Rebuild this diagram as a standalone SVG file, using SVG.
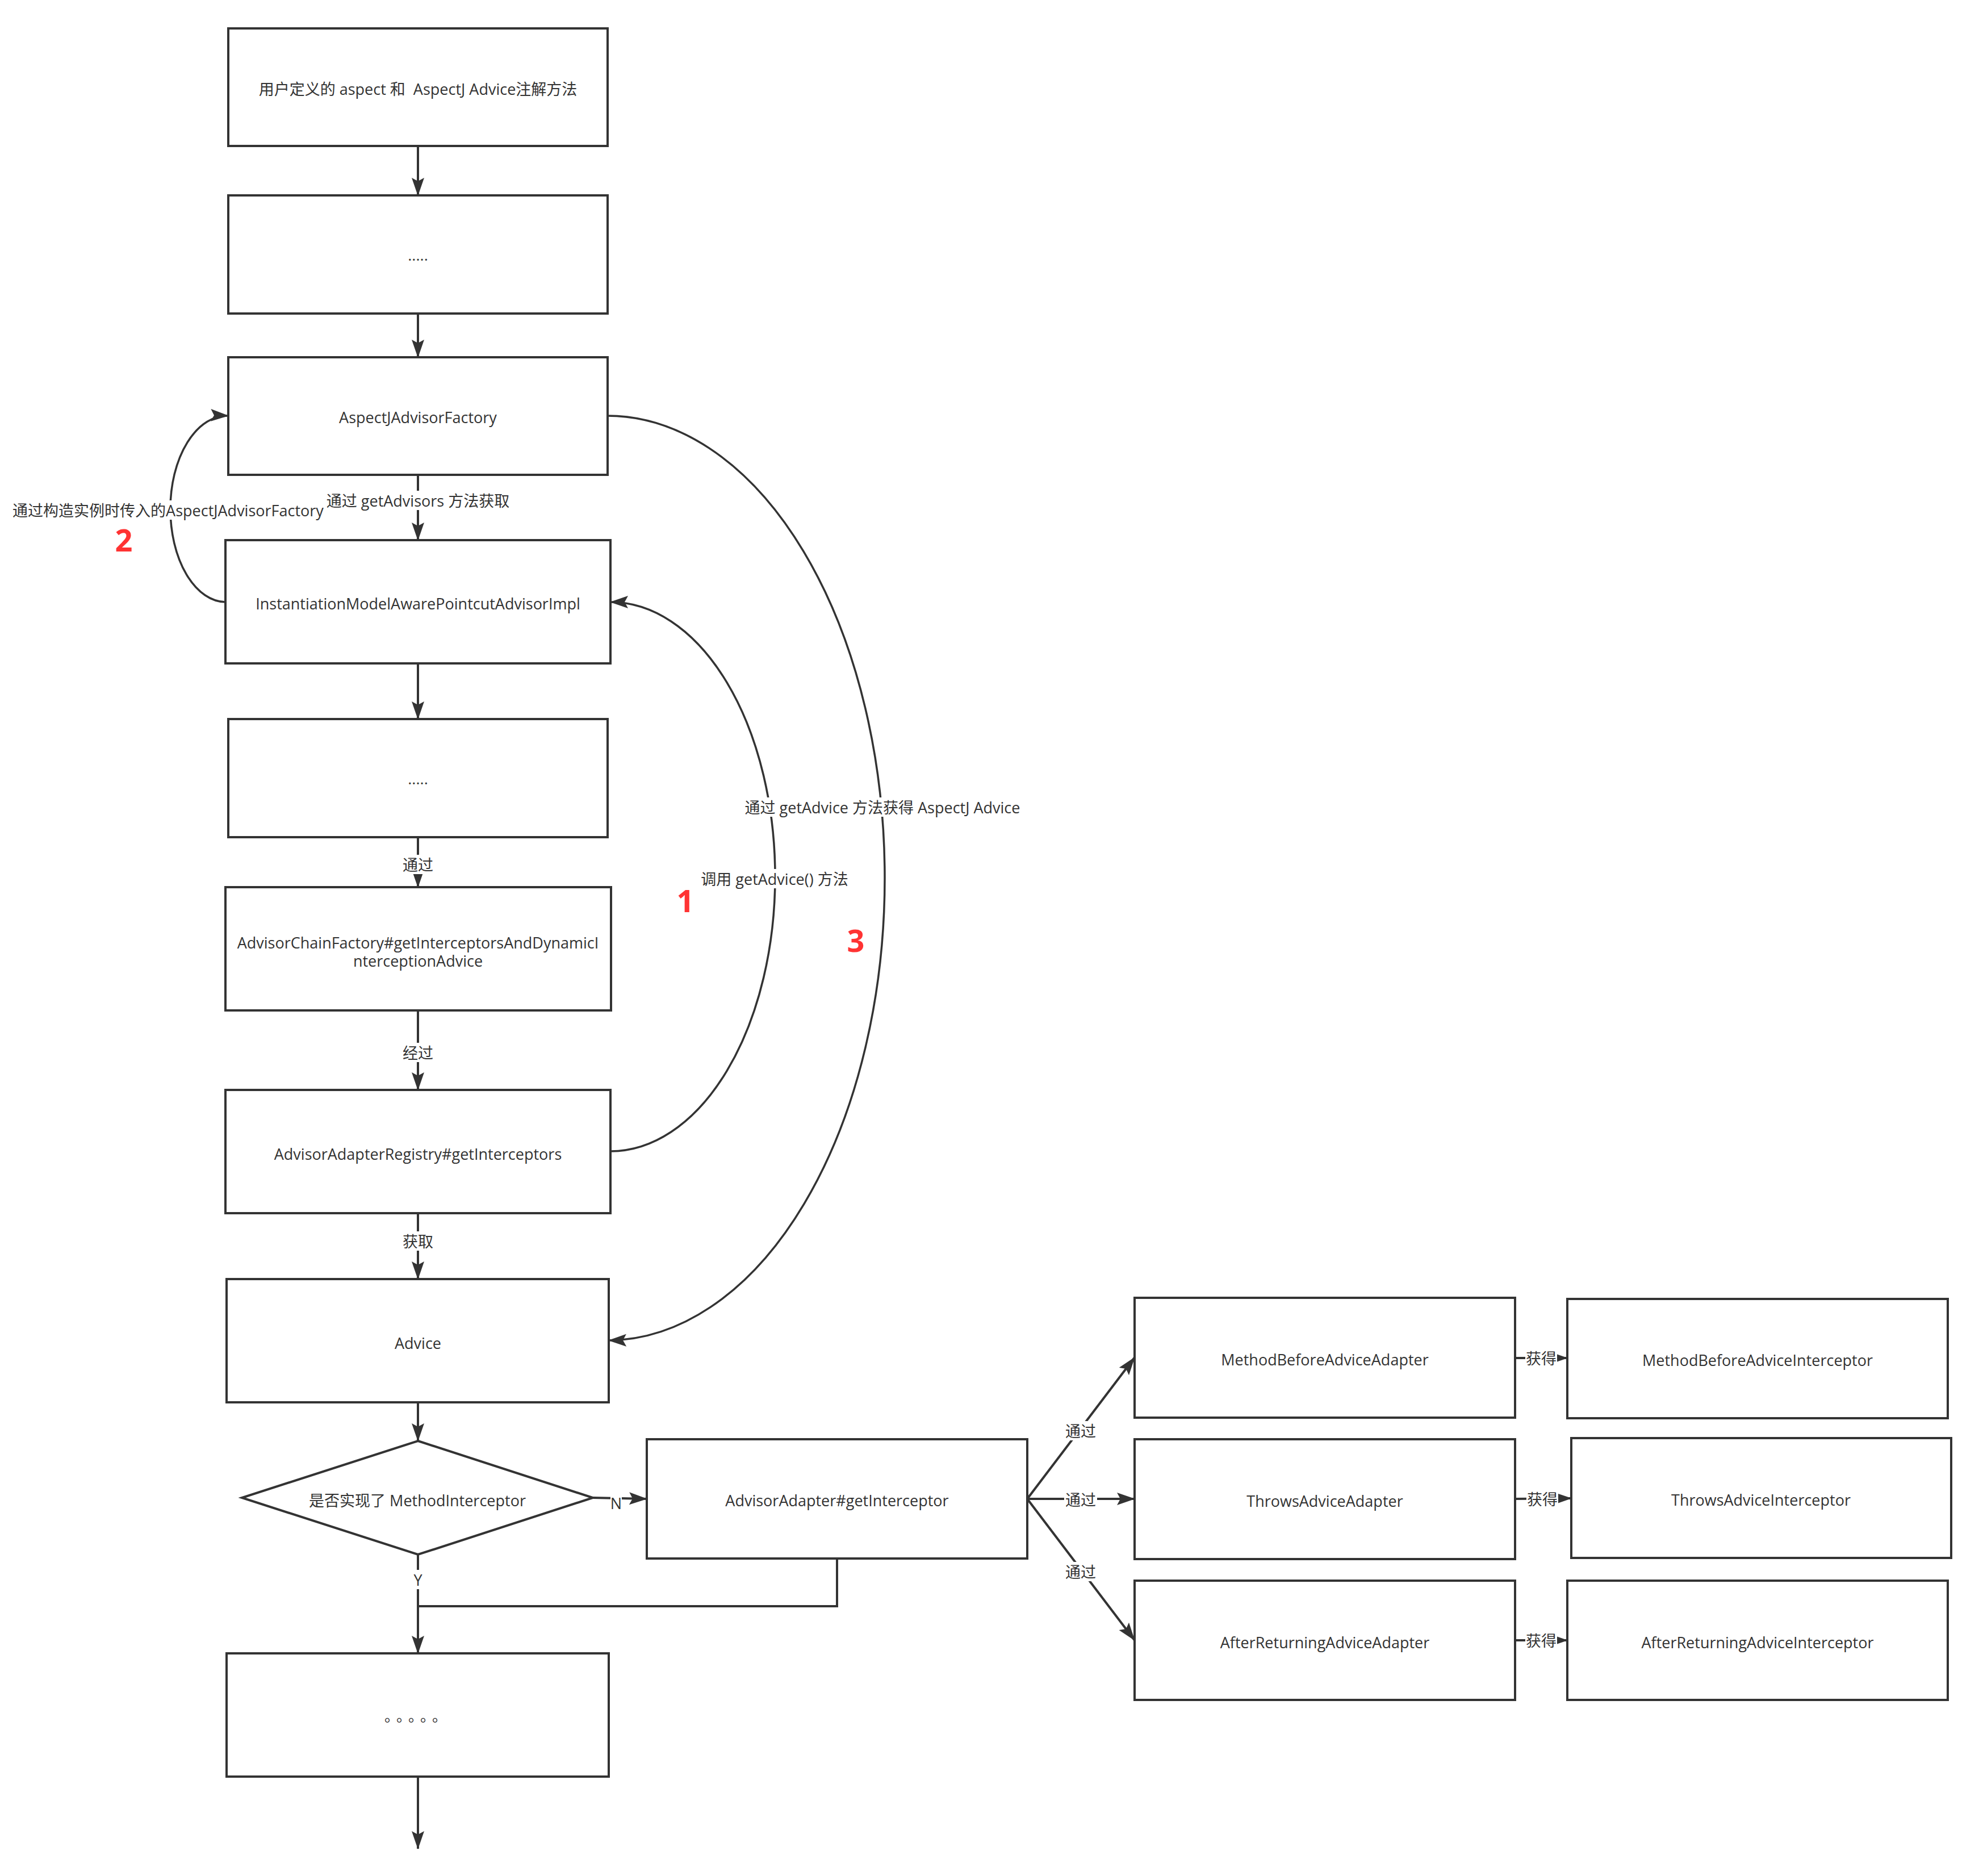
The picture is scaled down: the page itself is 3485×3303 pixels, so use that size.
<svg xmlns="http://www.w3.org/2000/svg" width="3485" height="3303" viewBox="0 0 3485 3303">
<defs>
<style>
.box{fill:#ffffff;stroke:#333333;stroke-width:4}
.t{font-family:"Open Sans","Noto Sans CJK SC",sans-serif;font-size:27px;fill:#333333;text-anchor:middle;dominant-baseline:central}
.cjk{font-family:"Noto Sans CJK SC",sans-serif;font-size:26px;fill:#333333;text-anchor:middle;dominant-baseline:central}
.ln{fill:none;stroke:#333333;stroke-width:4}
.cv{fill:none;stroke:#333333;stroke-width:3.5}
.bg{fill:#ffffff}
.num{font-family:"Open Sans","Noto Sans",sans-serif;font-size:54px;font-weight:bold;fill:#ff3333;text-anchor:middle;dominant-baseline:central}
</style>
<marker id="arr" markerUnits="userSpaceOnUse" markerWidth="34" markerHeight="24" refX="31" refY="11" orient="auto">
<path d="M0,0 L32,11 L0,22 L6,11 Z" fill="#333333"/>
</marker>
</defs>
<rect x="0" y="0" width="3485" height="3303" fill="#ffffff"/>

<g id="connectors">
<line class="ln" x1="736" y1="258" x2="736" y2="344" marker-end="url(#arr)"/>
<line class="ln" x1="736" y1="552" x2="736" y2="629" marker-end="url(#arr)"/>
<line class="ln" x1="736" y1="836" x2="736" y2="951" marker-end="url(#arr)"/>
<line class="ln" x1="736" y1="1168" x2="736" y2="1266" marker-end="url(#arr)"/>
<line class="ln" x1="736" y1="1474" x2="736" y2="1562" marker-end="url(#arr)"/>
<line class="ln" x1="736" y1="1779" x2="736" y2="1919" marker-end="url(#arr)"/>
<line class="ln" x1="736" y1="2136" x2="736" y2="2252" marker-end="url(#arr)"/>
<line class="ln" x1="736" y1="2469" x2="736" y2="2537" marker-end="url(#arr)"/>
<line class="ln" x1="1044" y1="2637" x2="1139" y2="2639" marker-end="url(#arr)"/>
<line class="ln" x1="736" y1="2737" x2="736" y2="2911" marker-end="url(#arr)"/>
<polyline class="ln" points="1474,2744 1474,2828 736,2828"/>
<line class="ln" x1="736" y1="3128" x2="736" y2="3255" marker-end="url(#arr)"/>
<line class="ln" x1="1809" y1="2639" x2="1998" y2="2390" marker-end="url(#arr)"/>
<line class="ln" x1="1809" y1="2639" x2="1998" y2="2639" marker-end="url(#arr)"/>
<line class="ln" x1="1809" y1="2639" x2="1998" y2="2888" marker-end="url(#arr)"/>
<line class="ln" x1="2668" y1="2391" x2="2760" y2="2391" marker-end="url(#arr)"/>
<line class="ln" x1="2668" y1="2639" x2="2767" y2="2638" marker-end="url(#arr)"/>
<line class="ln" x1="2668" y1="2888" x2="2760" y2="2888" marker-end="url(#arr)"/>
<path class="cv" d="M397,1060 A98,164 0 0 1 300,896 A100,164 0 0 1 402,732" marker-end="url(#arr)"/>
<path class="cv" d="M1075,2027 A290,483.5 0 0 0 1365,1543.5 A290,483.5 0 0 0 1075,1060" marker-end="url(#arr)"/>
<path class="cv" d="M1069,732 A489,814 0 0 1 1558,1546 A489,814 0 0 1 1072,2360" marker-end="url(#arr)"/>

<rect class="bg" x="22" y="881" width="548" height="34"/>
<text class="t" x="296" y="898">通过构造实例时传入的AspectJAdvisorFactory</text>
<rect class="bg" x="573" y="864" width="326" height="34"/>
<text class="t" x="736" y="881">通过 getAdvisors 方法获取</text>
<rect class="bg" x="1306" y="1404" width="496" height="34"/>
<text class="t" x="1554" y="1421">通过 getAdvice 方法获得 AspectJ Advice</text>
<rect class="bg" x="1231" y="1530" width="268" height="34"/>
<text class="t" x="1364" y="1547">调用 getAdvice() 方法</text>
<rect class="bg" x="707" y="1505" width="58" height="34"/>
<text class="t" x="736" y="1522">通过</text>
<rect class="bg" x="707" y="1836" width="58" height="34"/>
<text class="t" x="736" y="1853">经过</text>
<rect class="bg" x="707" y="2168" width="58" height="34"/>
<text class="t" x="736" y="2185">获取</text>
<rect class="bg" x="1075" y="2629" width="20" height="34"/>
<text class="t" x="1085" y="2646">N</text>
<rect class="bg" x="726" y="2764" width="20" height="34"/>
<text class="t" x="736" y="2781">Y</text>
<rect class="bg" x="1874" y="2502" width="58" height="34"/>
<text class="t" x="1903" y="2519">通过</text>
<rect class="bg" x="1874" y="2623" width="58" height="34"/>
<text class="t" x="1903" y="2640">通过</text>
<rect class="bg" x="1874" y="2750" width="58" height="34"/>
<text class="t" x="1903" y="2767">通过</text>
<rect class="bg" x="2686" y="2374" width="56" height="34"/>
<text class="t" x="2714" y="2391">获得</text>
<rect class="bg" x="2688" y="2622" width="56" height="34"/>
<text class="t" x="2716" y="2639">获得</text>
<rect class="bg" x="2686" y="2871" width="56" height="34"/>
<text class="t" x="2714" y="2888">获得</text>
</g>

<g id="num-2"><text class="num" x="218" y="950">2</text></g>
<g id="num-1"><text class="num" x="1207" y="1585">1</text></g>
<g id="num-3"><text class="num" x="1507" y="1655">3</text></g>

<g id="n-user-aspect">
<rect class="box" x="402" y="50" width="668" height="207"/>
<text class="t" x="736" y="156" xml:space="preserve">用户定义的 aspect 和  AspectJ Advice注解方法</text>
</g>
<g id="n-dots1">
<rect class="box" x="402" y="344" width="668" height="208"/>
<text class="t" x="736" y="448">.....</text>
</g>
<g id="n-factory">
<rect class="box" x="402" y="629" width="668" height="207"/>
<text class="t" x="736" y="734">AspectJAdvisorFactory</text>
</g>
<g id="n-impl">
<rect class="box" x="397" y="951" width="678" height="217"/>
<text class="t" x="736" y="1062">InstantiationModelAwarePointcutAdvisorImpl</text>
</g>
<g id="n-dots2">
<rect class="box" x="402" y="1266" width="668" height="208"/>
<text class="t" x="736" y="1370">.....</text>
</g>
<g id="n-chain">
<rect class="box" x="397" y="1562" width="679" height="217"/>
<text class="t" x="736" y="1659">AdvisorChainFactory#getInterceptorsAndDynamicI</text>
<text class="t" x="736" y="1691">nterceptionAdvice</text>
</g>
<g id="n-registry">
<rect class="box" x="397" y="1919" width="678" height="217"/>
<text class="t" x="736" y="2031">AdvisorAdapterRegistry#getInterceptors</text>
</g>
<g id="n-advice">
<rect class="box" x="399" y="2252" width="673" height="217"/>
<text class="t" x="736" y="2364">Advice</text>
</g>
<g id="n-decision">
<polygon class="box" points="736,2537 1044,2637 736,2737 426,2637"/>
<text class="t" x="735" y="2641">是否实现了 MethodInterceptor</text>
</g>
<g id="n-adapter">
<rect class="box" x="1139" y="2534" width="670" height="210"/>
<text class="t" x="1474" y="2641">AdvisorAdapter#getInterceptor</text>
</g>
<g id="n-dots3">
<rect class="box" x="399" y="2911" width="673" height="217"/>
<text class="cjk" x="736" y="3019" letter-spacing="8">。。。。。</text>
</g>
<g id="n-mba">
<rect class="box" x="1998" y="2285" width="670" height="211"/>
<text class="t" x="2333" y="2393">MethodBeforeAdviceAdapter</text>
</g>
<g id="n-mbi">
<rect class="box" x="2760" y="2287" width="670" height="210"/>
<text class="t" x="3095" y="2394">MethodBeforeAdviceInterceptor</text>
</g>
<g id="n-ta">
<rect class="box" x="1998" y="2534" width="670" height="211"/>
<text class="t" x="2333" y="2642">ThrowsAdviceAdapter</text>
</g>
<g id="n-ti">
<rect class="box" x="2767" y="2532" width="669" height="211"/>
<text class="t" x="3101" y="2640">ThrowsAdviceInterceptor</text>
</g>
<g id="n-ara">
<rect class="box" x="1998" y="2783" width="670" height="210"/>
<text class="t" x="2333" y="2891">AfterReturningAdviceAdapter</text>
</g>
<g id="n-ari">
<rect class="box" x="2760" y="2783" width="670" height="210"/>
<text class="t" x="3095" y="2891">AfterReturningAdviceInterceptor</text>
</g>
</svg>
